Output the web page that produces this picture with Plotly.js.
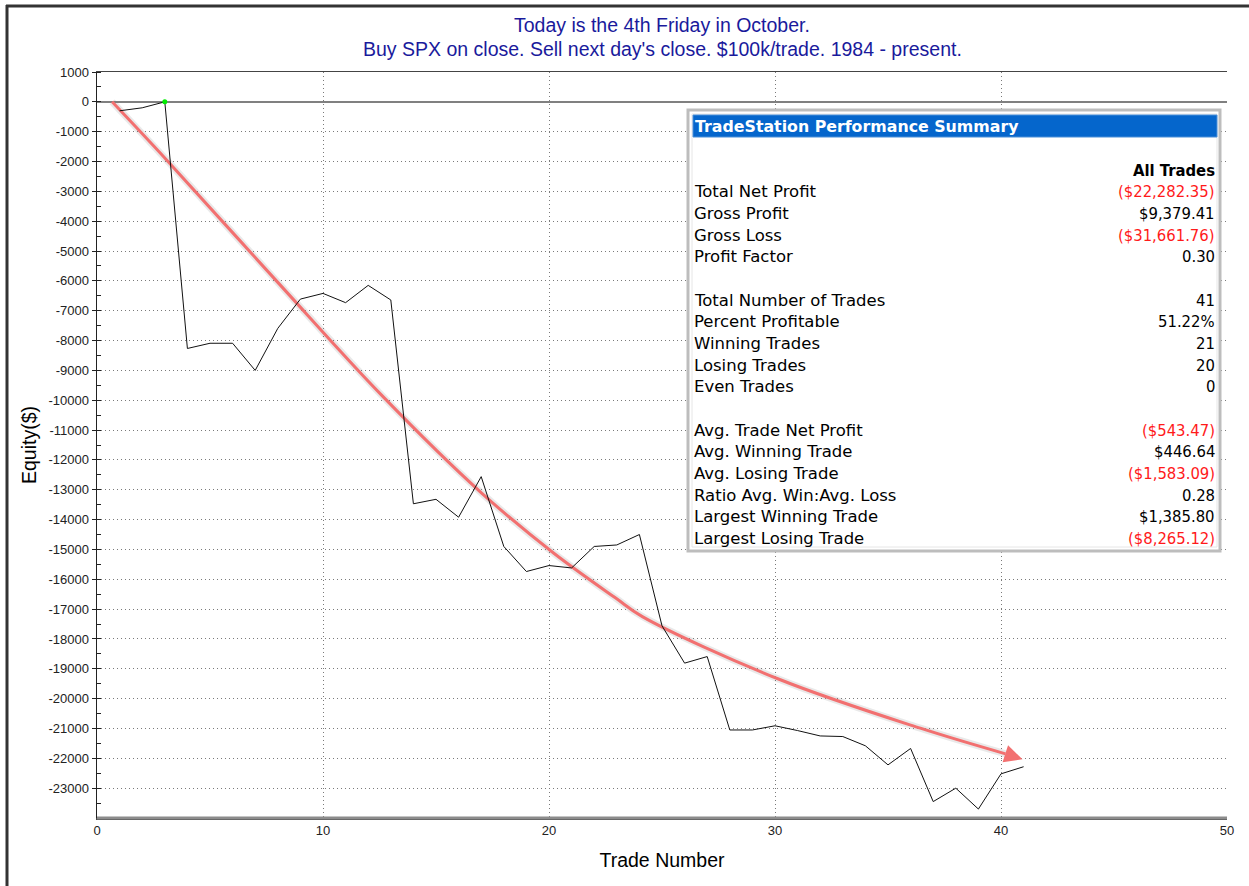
<!DOCTYPE html>
<html>
<head>
<meta charset="utf-8">
<script src="https://cdn.plot.ly/plotly-3.0.1.min.js"></script>
<style>
  html, body { margin: 0; padding: 0; background: #ffffff; }
  #chart { width: 1249px; height: 886px; }
</style>
</head>
<body>
<div id="chart"></div>
<script>
// ---- Data ----
const tradeNumbers = [1, 2, 3, 4, 5, 6, 7, 8, 9, 10,
  11, 12, 13, 14, 15, 16, 17, 18, 19, 20,
  21, 22, 23, 24, 25, 26, 27, 28, 29, 30,
  31, 32, 33, 34, 35, 36, 37, 38, 39, 40, 41];
const equity = [-300, -200, 0, -8265, -8090, -8090, -9000, -7590, -6610, -6420,
  -6730, -6150, -6640, -13470, -13320, -13920, -12560, -14900, -15740, -15540,
  -15620, -14900, -14850, -14500, -17560, -18810, -18590, -21050, -21050, -20910,
  -21070, -21250, -21270, -21580, -22220, -21670, -23450, -23000, -23700, -22520, -22282];

// hand-drawn trend arrow (annotation path, in data units)
const arrowX = [0.67, 3.07, 8.0, 12.58, 17.02, 20.2, 22.95, 24.13, 30.18, 36.43, 40.2];
const arrowY = [0, -1940, -6050, -9820, -13110, -15120, -16630, -17250, -19350, -20990, -21850];
const arrowTip = [40.95, -22030];

const xTickVals = [0, 10, 20, 30, 40, 50];
const xTickLabels = ["0", "10", "20", "30", "40", "50"];
const yTickVals = [1000, 0, -1000, -2000, -3000, -4000, -5000, -6000, -7000, -8000,
  -9000, -10000, -11000, -12000, -13000, -14000, -15000, -16000, -17000, -18000,
  -19000, -20000, -21000, -22000, -23000];
const yTickLabels = ["1000", "0", "-1000", "-2000", "-3000", "-4000", "-5000", "-6000", "-7000", "-8000",
  "-9000", "-10000", "-11000", "-12000", "-13000", "-14000", "-15000", "-16000", "-17000", "-18000",
  "-19000", "-20000", "-21000", "-22000", "-23000"];

const titleLines = ["Today is the 4th Friday in October.",
  "Buy SPX on close. Sell next day's close. $100k/trade. 1984 - present."];

const summaryTitle = "TradeStation Performance Summary";
const summaryColumn = "All Trades";
const summaryLabels = ["Total Net Profit", "Gross Profit", "Gross Loss", "Profit Factor", "",
  "Total Number of Trades", "Percent Profitable", "Winning Trades", "Losing Trades", "Even Trades", "",
  "Avg. Trade Net Profit", "Avg. Winning Trade", "Avg. Losing Trade", "Ratio Avg. Win:Avg. Loss",
  "Largest Winning Trade", "Largest Losing Trade"];
const summaryValues = ["($22,282.35)", "$9,379.41", "($31,661.76)", "0.30", "",
  "41", "51.22%", "21", "20", "0", "",
  "($543.47)", "$446.64", "($1,583.09)", "0.28",
  "$1,385.80", "($8,265.12)"];

// ---- Derived: new equity highs (green markers) ----
const highX = [], highY = [];
let runMax = -Infinity;
for (let i = 0; i < equity.length; i++) {
  if (equity[i] >= runMax && equity[i] >= 0) { highX.push(tradeNumbers[i]); highY.push(equity[i]); }
  runMax = Math.max(runMax, equity[i]);
}

// ---- Layout geometry helpers (pixel -> paper) ----
const W = 1249, H = 886;
const M = { l: 97, r: 22, t: 72, b: 68 };
const PW = W - M.l - M.r, PH = H - M.t - M.b;
const px = v => (v - M.l) / PW;
const py = v => (H - M.b - v) / PH;

const FONT = "Liberation Sans, Arial, sans-serif";
const TFONT = "DejaVu Sans, Tahoma, sans-serif";
const VFONT = "DejaVu Sans Condensed, DejaVu Sans, Tahoma, sans-serif";
const ARROW = "rgb(242,112,112)";

const traces = [
  { // arrow glow/shadow
    x: arrowX, y: arrowY, mode: "lines", type: "scatter",
    line: { shape: "spline", color: "rgba(120,120,120,0.16)", width: 7 },
    hoverinfo: "skip", showlegend: false
  },
  {
    x: arrowX, y: arrowY, mode: "lines", type: "scatter",
    line: { shape: "spline", color: ARROW, width: 3 },
    hoverinfo: "skip", showlegend: false
  },
  {
    x: tradeNumbers, y: equity, mode: "lines", type: "scatter",
    line: { color: "#111111", width: 1 }, showlegend: false
  },
  {
    x: highX, y: highY, mode: "markers", type: "scatter",
    marker: { color: "#00ee00", size: 5 }, showlegend: false
  }
];

const shapes = [
  // outer window frame
  { type: "line", xref: "paper", yref: "paper", x0: px(7), x1: px(7), y0: py(5), y1: py(890),
    line: { color: "#333333", width: 3 } },
  { type: "line", xref: "paper", yref: "paper", x0: px(6), x1: px(1255), y0: py(6), y1: py(6),
    line: { color: "#333333", width: 3 } },
  // plot bottom border (thicker gray)
  { type: "line", xref: "paper", yref: "paper", x0: 0, x1: 1, y0: 0, y1: 0,
    line: { color: "#8c8c8c", width: 3 } },
  // summary box
  { type: "rect", xref: "paper", yref: "paper", layer: "above",
    x0: px(688), x1: px(1220), y0: py(110), y1: py(551),
    fillcolor: "#ffffff", line: { color: "#bdbdbd", width: 3 } },
  { type: "rect", xref: "paper", yref: "paper", layer: "above",
    x0: px(692), x1: px(1217), y0: py(114), y1: py(547),
    fillcolor: "rgba(0,0,0,0)", line: { color: "#e6e6e6", width: 1 } },
  { type: "rect", xref: "paper", yref: "paper", layer: "above",
    x0: px(693), x1: px(1217), y0: py(115), y1: py(137),
    fillcolor: "#0566cc", line: { color: "#4a8fd8", width: 1 } }
];

const annotations = [];
annotations.push({
  xref: "paper", yref: "paper", x: px(693), y: py(126.5), xanchor: "left", yanchor: "middle",
  text: "<b>" + summaryTitle + "</b>", showarrow: false,
  font: { family: TFONT, size: 15.8, color: "#ffffff" }
});
annotations.push({
  xref: "paper", yref: "paper", x: px(1217), y: py(170), xanchor: "right", yanchor: "middle",
  text: "<b>" + summaryColumn + "</b>", showarrow: false,
  font: { family: VFONT, size: 16.5, color: "#000000" }
});
summaryLabels.forEach((lab, i) => {
  if (!lab) return;
  const yy = 191.7 + 21.67 * i;
  const val = summaryValues[i];
  annotations.push({
    xref: "paper", yref: "paper", x: px(692), y: py(yy), xanchor: "left", yanchor: "middle",
    text: lab, showarrow: false, font: { family: TFONT, size: 16.5, color: "#000000" }
  });
  annotations.push({
    xref: "paper", yref: "paper", x: px(1217), y: py(yy), xanchor: "right", yanchor: "middle",
    text: val, showarrow: false,
    font: { family: VFONT, size: 16.5, color: val.startsWith("(") ? "#ff1a1a" : "#000000" }
  });
});
// title lines
titleLines.forEach((t, i) => {
  annotations.push({
    xref: "paper", yref: "paper", x: 0.5, y: py(25 + 24 * i), xanchor: "center", yanchor: "middle",
    text: t, showarrow: false, font: { family: FONT, size: 19.5, color: "#1a1a9c" }
  });
});
// arrow head
annotations.push({
  x: arrowTip[0], y: arrowTip[1], ax: arrowX[arrowX.length - 1], ay: arrowY[arrowY.length - 1],
  xref: "x", yref: "y", axref: "x", ayref: "y", text: "", showarrow: true,
  arrowhead: 2, arrowsize: 1.2, arrowwidth: 3, arrowcolor: ARROW
});

const layout = {
  width: W, height: H,
  margin: M,
  paper_bgcolor: "#ffffff", plot_bgcolor: "#ffffff",
  showlegend: false,
  xaxis: {
    range: [0, 50], tickmode: "array", tickvals: xTickVals, ticktext: xTickLabels,
    showgrid: true, gridcolor: "#7a7a7a", griddash: "1px,3px", gridwidth: 1,
    zeroline: false, showline: true, mirror: true, linecolor: "#444444", linewidth: 1.5,
    ticks: "", tickfont: { family: FONT, size: 13, color: "#222222" },
    title: { text: "Trade Number", font: { family: FONT, size: 19.5, color: "#000000" }, standoff: 16 }
  },
  yaxis: {
    range: [-24000, 1000], tickmode: "array", tickvals: yTickVals, ticktext: yTickLabels,
    showgrid: true, gridcolor: "#7a7a7a", griddash: "1px,3px", gridwidth: 1,
    zeroline: true, zerolinecolor: "#808080", zerolinewidth: 2,
    showline: true, linecolor: "#222222", linewidth: 1.5,
    ticks: "outside", ticklen: 4, tickcolor: "#222222",
    minor: { dtick: 500, tick0: 0, ticks: "inside", ticklen: 4, tickcolor: "#222222", showgrid: false },
    tickfont: { family: FONT, size: 13, color: "#222222" },
    title: { text: "Equity($)", font: { family: FONT, size: 19.5, color: "#000000" }, standoff: 6 }
  },
  shapes: shapes,
  annotations: annotations
};

Plotly.newPlot("chart", traces, layout, { displayModeBar: false, staticPlot: true });
</script>
</body>
</html>
